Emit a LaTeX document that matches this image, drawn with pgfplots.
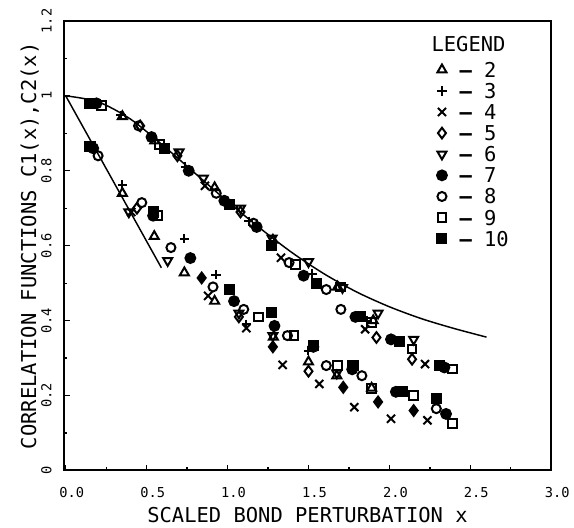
\documentclass[border=0pt]{standalone}
\usepackage{fontspec}
\setmainfont{DejaVu Sans Mono}
\usepackage{pgfplots}
\pgfplotsset{compat=1.18}
\begin{document}
\begin{tikzpicture}
\begin{axis}[
  width=366.75pt, height=338.25pt, scale only axis,
  xmin=-0.012, xmax=3.0, ymin=0, ymax=1.2,
  xtick={0,0.5,1,1.5,2,2.5,3},
  ytick={0,0.2,0.4,0.6,0.8,1,1.2},
  minor x tick num=1, minor y tick num=1,
  tick pos=left, tick align=inside,
  major tick length=4.5pt, minor tick length=2.6pt,
  every tick/.style={black, line width=1pt},
  axis line style={line width=1.5pt},
  /pgf/number format/assume math mode=true,
  x tick label style={/pgf/number format/fixed, /pgf/number format/fixed zerofill,
    /pgf/number format/precision=1, yshift=-9pt, xshift=4.5pt},
  y tick label style={rotate=90, anchor=south, inner ysep=9pt},
  tick label style={font=\fontsize{10.3}{12}\selectfont},
  label style={font=\fontsize{15.4}{18}\selectfont},
  xlabel={SCALED BOND PERTURBATION x},
  ylabel={CORRELATION FUNCTIONS C1(x),C2(x)},
  xlabel style={at={(axis description cs:0.5,-0.0998)}, anchor=center},
  ylabel style={at={(axis description cs:-0.0695,0.5)}, anchor=center},
  legend style={at={(0.757,0.9146)}, anchor=north west, draw=none, fill=none,
    font=\fontsize{15.4}{18}\selectfont, row sep=4.7pt, column sep=9.5pt,
    nodes={inner sep=0pt, text height=11.2pt, text depth=0pt}},
  legend cell align=left,
  legend image code/.code={\draw[mark repeat=2,mark phase=2,#1]
    plot coordinates {(0pt,0pt)(3pt,0pt)(6pt,0pt)};},
  every axis plot/.append style={black},
  mk/.style={only marks, mark options={solid, line width=1.5pt}},
]
% theory curves
\addplot[line width=1.1pt, smooth, no marks, forget plot] coordinates {
(0,1) (0.2,0.984) (0.4,0.938) (0.6,0.868) (0.8,0.793) (1.0,0.718) (1.2,0.647)
(1.4,0.581) (1.6,0.524) (1.8,0.476) (2.0,0.437) (2.2,0.405) (2.4,0.379) (2.6,0.356)
};
\addplot[line width=1.1pt, no marks, forget plot] coordinates {(0,1) (0.591,0.541)};

% 2
\addplot[mk, mark=triangle, mark size=3.9pt] coordinates {
(0.35,0.945) (0.55,0.88) (0.92,0.755) (1.28,0.615) (1.68,0.49) (1.90,0.40)
(0.35,0.74) (0.547,0.625) (0.733,0.528) (0.92,0.452) (1.283,0.356) (1.50,0.29) (1.675,0.253) (1.89,0.22)
};
\addlegendentry{\textbf{–} 2}
% 3
\addplot[mk, mark=+, mark size=3.6pt] coordinates {
(0.34,0.948) (0.74,0.81) (1.13,0.665) (1.52,0.525) (1.86,0.40)
(0.35,0.762) (0.733,0.619) (0.93,0.523) (1.116,0.39) (1.50,0.32)
};
\addlegendentry{\textbf{–} 3}
% 4
\addplot[mk, mark=x, mark size=4.3pt] coordinates {
(0.86,0.76) (1.33,0.568) (1.85,0.377) (2.22,0.284)
(0.405,0.69) (0.88,0.466) (1.116,0.38) (1.34,0.282) (1.567,0.231) (1.783,0.169) (2.01,0.138) (2.235,0.134)
};
\addlegendentry{\textbf{–} 4}
% 5
\addplot[mk, mark=diamond, mark size=4pt] coordinates {
(0.46,0.92) (0.69,0.84) (1.08,0.69) (1.92,0.355) (2.14,0.297)
(0.44,0.70) (1.07,0.41) (1.50,0.265)
};
\addlegendentry{\textbf{–} 5}
% 6
\addplot[only marks, mark=triangle, mark size=3.9pt, mark options={solid, line width=1.5pt, rotate=180}] coordinates {
(0.70,0.85) (0.85,0.78) (1.08,0.70) (1.275,0.62) (1.50,0.557) (1.71,0.488) (1.93,0.42) (2.15,0.35)
(0.39,0.69) (0.63,0.56) (1.07,0.42) (1.28,0.36) (1.675,0.26)
};
\addlegendentry{\textbf{–} 6}
% 7
\addplot[mk, mark=*, mark size=3.7pt] coordinates {
(0.19,0.98) (0.53,0.89) (0.76,0.80) (0.98,0.72) (1.18,0.65) (1.47,0.52) (1.79,0.41) (2.01,0.35) (2.34,0.275)
(0.17,0.86) (0.54,0.68) (0.77,0.567) (1.04,0.452) (1.29,0.386) (1.53,0.33) (1.77,0.27) (2.04,0.21) (2.35,0.151)
};
\addlegendentry{\textbf{–} 7}
% 8
\addplot[mk, mark=o, mark size=3.4pt] coordinates {
(0.45,0.92) (0.93,0.74) (1.16,0.66) (1.38,0.555) (1.61,0.483) (1.70,0.43) (2.01,0.35)
(0.20,0.84) (0.47,0.715) (0.65,0.595) (0.91,0.49) (1.10,0.43) (1.37,0.36) (1.61,0.28) (1.83,0.253) (2.29,0.165)
};
\addlegendentry{\textbf{–} 8}
% 9
\addplot[mk, mark=square, mark size=3.3pt] coordinates {
(0.22,0.975) (0.58,0.87) (1.42,0.55) (1.70,0.49) (1.89,0.395) (2.14,0.324) (2.39,0.271)
(0.57,0.68) (1.19,0.41) (1.41,0.36) (1.68,0.28) (1.89,0.218) (2.15,0.20) (2.39,0.125)
};
\addlegendentry{\textbf{–} 9}
% 10
\addplot[mk, mark=square*, mark size=3.4pt] coordinates {
(0.15,0.98) (0.61,0.86) (1.01,0.71) (1.27,0.60) (1.55,0.50) (1.82,0.41) (2.06,0.345) (2.31,0.28)
(0.15,0.865) (0.54,0.69) (1.01,0.483) (1.27,0.422) (1.53,0.333) (1.775,0.28) (2.08,0.21) (2.29,0.191)
};
\addlegendentry{\textbf{–} 10}
% overlapping points that print as solid diamonds
\addplot[mk, mark=diamond*, mark size=4pt, forget plot] coordinates {
(0.84,0.514) (1.28,0.33) (1.715,0.222) (1.93,0.183) (2.15,0.16)
};
\node[anchor=west, inner sep=0pt, font=\fontsize{15.4}{18}\selectfont] at (axis cs:2.259,1.139) {LEGEND};
\end{axis}
\path ([shift={(-48pt,-41.25pt)}]current axis.south west) rectangle ([shift={(15.75pt,15.75pt)}]current axis.north east);
\end{tikzpicture}
\end{document}
